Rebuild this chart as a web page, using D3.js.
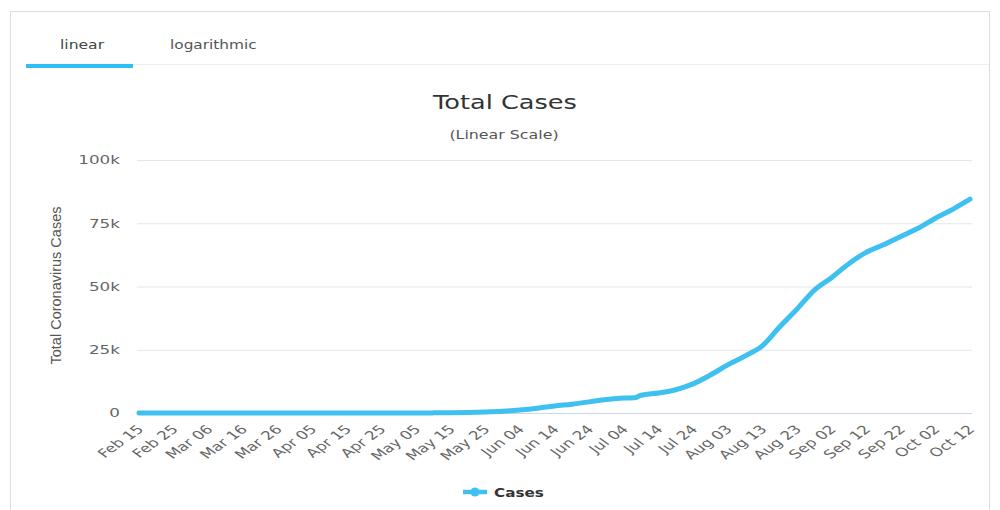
<!DOCTYPE html>
<html>
<head>
<meta charset="utf-8">
<script src="https://cdn.jsdelivr.net/npm/d3@7"></script>
<style>
  body { margin: 0; background: #fff; }
  svg { display: block; }
</style>
</head>
<body>
<div id="chart"></div>
<script>
// datos: días desde Feb 15 y casos totales
const startDate = new Date(2020, 1, 15);
const dayOffsets = [0, 5, 10, 15, 20, 25, 30, 35, 40, 45, 50, 55, 60, 65, 70, 75, 80, 85, 90, 95,
  100, 105, 110, 115, 120, 125, 130, 135, 140, 143, 145, 150, 155, 160, 165, 170, 175, 180, 185, 190,
  195, 200, 205, 210, 215, 220, 225, 230, 235, 240];
const cases = [0, 0, 0, 0, 0, 0, 0, 0, 0, 0, 0, 0, 0, 5, 10, 15, 20, 50, 100, 200,
  400, 700, 1200, 1900, 2800, 3500, 4400, 5300, 5900, 6000, 7000, 7900, 9200, 11500, 15000, 19000, 22500, 26500, 34000, 41000,
  48500, 53500, 59000, 63500, 66500, 69800, 73000, 77000, 80500, 84500];
const tickLabels = ["Feb 15", "Feb 25", "Mar 06", "Mar 16", "Mar 26", "Apr 05", "Apr 15", "Apr 25",
  "May 05", "May 15", "May 25", "Jun 04", "Jun 14", "Jun 24", "Jul 04", "Jul 14", "Jul 24",
  "Aug 03", "Aug 13", "Aug 23", "Sep 02", "Sep 12", "Sep 22", "Oct 02", "Oct 12"];
const yTicks = [0, 25000, 50000, 75000, 100000];

const width = 1000, height = 510;
const margin = { left: 139, right: 30, top: 160, bottom: 97 };
const font = "'DejaVu Sans', sans-serif";

const svg = d3.select("#chart").append("svg")
  .attr("width", width)
  .attr("height", height);

// texto ensanchado horizontalmente (la captura original está estirada)
function wideText(parent, x, y, k, str) {
  return parent.append("text")
    .attr("transform", `translate(${x}, ${y}) scale(${k}, 1)`)
    .attr("font-family", font)
    .text(str);
}

// marco del panel
svg.append("rect")
  .attr("x", 10.5).attr("y", 11.5)
  .attr("width", 979).attr("height", 520)
  .attr("fill", "#fff")
  .attr("stroke", "#dcdcdc");

// pestañas
svg.append("line")
  .attr("x1", 26).attr("x2", 989)
  .attr("y1", 64.5).attr("y2", 64.5)
  .attr("stroke", "#eeeeee");
svg.append("rect")
  .attr("x", 26).attr("y", 64)
  .attr("width", 107).attr("height", 4)
  .attr("fill", "#2fc0f2");
wideText(svg, 60, 49, 1.2, "linear")
  .attr("font-size", 13)
  .attr("fill", "#444");
wideText(svg, 170, 49, 1.18, "logarithmic")
  .attr("font-size", 13)
  .attr("fill", "#555");

// títulos
wideText(svg, 505, 109, 1.28, "Total Cases")
  .attr("text-anchor", "middle")
  .attr("font-size", 20)
  .attr("fill", "#333");
wideText(svg, 504, 139, 1.32, "(Linear Scale)")
  .attr("text-anchor", "middle")
  .attr("font-size", 12)
  .attr("fill", "#555");

// escalas
const endDate = d3.timeDay.offset(startDate, 240);
const x = d3.scaleTime()
  .domain([startDate, endDate])
  .range([margin.left, width - margin.right]);
const y = d3.scaleLinear()
  .domain([0, 100000])
  .range([height - margin.bottom, margin.top]);

// rejilla y eje Y
const yAxis = svg.append("g")
  .attr("transform", `translate(${margin.left - 2}, 0)`)
  .call(d3.axisLeft(y)
    .tickValues(yTicks)
    .tickSize(-(width - margin.left - margin.right + 4))
    .tickPadding(17)
    .tickFormat(d => d === 0 ? "0" : d / 1000 + "k"));
yAxis.select(".domain").remove();
yAxis.selectAll("line").attr("stroke", "#e6e6e6");
yAxis.selectAll("text")
  .attr("x", 0)
  .attr("transform", "translate(-17, 0) scale(1.4, 1)")
  .attr("font-family", font)
  .attr("font-size", 12)
  .attr("fill", "#666");

svg.append("text")
  .attr("transform", `translate(61, ${y(50000) - 1}) rotate(-90)`)
  .attr("text-anchor", "middle")
  .attr("font-family", "'Liberation Sans Narrow', 'Liberation Sans', sans-serif")
  .attr("font-size", 14.5)
  .attr("fill", "#555")
  .text("Total Coronavirus Cases");

// eje X
const tickDates = tickLabels.map((d, i) => d3.timeDay.offset(startDate, i * 10));
const xAxis = svg.append("g")
  .attr("transform", `translate(0, ${y(0)})`)
  .call(d3.axisBottom(x)
    .tickValues(tickDates)
    .tickSize(0)
    .tickFormat((d, i) => tickLabels[i]));
xAxis.select(".domain")
  .attr("stroke", "#ccd6eb")
  .attr("d", `M${margin.left - 2},0.5H${width - margin.right + 2}`);
xAxis.selectAll("text")
  .attr("font-family", font)
  .attr("font-size", 12)
  .attr("fill", "#666")
  .attr("text-anchor", "end")
  .attr("y", 0)
  .attr("dy", 0)
  .attr("transform", "translate(5, 17) scale(1.4, 1) rotate(-45)");

// línea de casos
const points = dayOffsets.map((d, i) => ({ date: d3.timeDay.offset(startDate, d), value: cases[i] }));
const line = d3.line()
  .x(d => x(d.date))
  .y(d => y(d.value))
  .curve(d3.curveMonotoneX);
svg.append("path")
  .datum(points)
  .attr("fill", "none")
  .attr("stroke", "#3ec0f0")
  .attr("stroke-width", 5)
  .attr("stroke-linejoin", "round")
  .attr("stroke-linecap", "round")
  .attr("d", line);

// leyenda
const legend = svg.append("g").attr("transform", "translate(463, 492)");
legend.append("line")
  .attr("x1", 0).attr("x2", 24)
  .attr("stroke", "#3ec0f0").attr("stroke-width", 4.5);
legend.append("circle")
  .attr("cx", 12).attr("r", 4.5)
  .attr("fill", "#3ec0f0");
wideText(legend, 31, 5, 1.17, "Cases")
  .attr("font-size", 13)
  .attr("font-weight", "bold")
  .attr("fill", "#333");
</script>
</body>
</html>
